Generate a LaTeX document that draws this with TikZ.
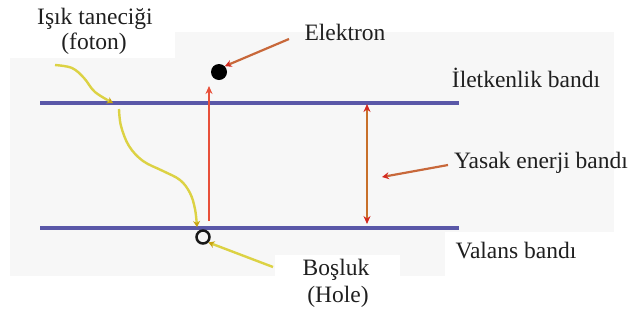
\documentclass[tikz,border=0pt]{standalone}
\usepackage{fontspec}
\setmainfont{Liberation Serif}
\usetikzlibrary{arrows.meta}
\definecolor{bandblue}{HTML}{5A58A8}
\definecolor{arrred}{HTML}{E8503A}
\definecolor{arrbrown}{HTML}{C8683A}
\definecolor{gapor}{HTML}{C8702A}
\definecolor{tipred}{HTML}{D42A20}
\definecolor{phyellow}{HTML}{DCD244}
\definecolor{tipyellow}{HTML}{C8A410}
\definecolor{bggray}{HTML}{F7F7F7}
\tikzset{
  band/.style={draw=bandblue, line width=3.6pt},
  lbl/.style={font=\fontsize{23.5}{27}\selectfont, text=black!88, inner sep=0pt},
  pointer/.style={draw=arrbrown, line width=2.2pt, -{Stealth[length=7pt,width=7pt,fill=tipred,color=tipred]}},
  photon/.style={draw=phyellow, line width=2.4pt},
  yarrow/.style={-{Stealth[length=6pt,width=7pt,fill=tipyellow,color=tipyellow]}}
}
\begin{document}
\begin{tikzpicture}[x=1pt,y=-1pt]
\useasboundingbox (0,0) rectangle (636,325);
% background panel
\fill[bggray] (10,32) rectangle (614,276);
\fill[white] (10,32) rectangle (175,58);
\fill[white] (445,232) rectangle (614,276);
\fill[white] (275,255) rectangle (400,276);
% bands
\coordinate (cl) at (40,103); \coordinate (cr) at (459,103);
\coordinate (vl) at (40,228); \coordinate (vr) at (459,228);
\draw[band] (cl) -- (cr);
\draw[band] (vl) -- (vr);
% electron and hole
\node[circle, fill=black, minimum size=16pt, inner sep=0pt] (el) at (219,72) {};
\node[circle, draw=black!90, line width=2.5pt, minimum size=13pt, inner sep=0pt] (hole) at (203,237) {};
% excitation arrow
\coordinate (exs) at (209,221); \coordinate (exe) at (209,86);
\draw[draw=arrred, line width=2.2pt, -{Stealth[length=8pt,width=7pt]}] (exs) -- (exe);
% gap double arrow
\coordinate (gt) at (367,104); \coordinate (gb) at (367,224);
\draw[draw=gapor, line width=2.4pt, {Stealth[length=8pt,width=7pt,fill=tipred,color=tipred]}-{Stealth[length=8pt,width=7pt,fill=tipred,color=tipred]}] (gt) -- (gb);
% labels
\node[lbl] (isik) at (95,19) {Işık taneciği};
\node[lbl] (foton) at (94,44) {(foton)};
\node[lbl] (elek) at (345,32) {Elektron};
\node[lbl] (ilet) at (526,78) {İletkenlik bandı};
\node[lbl] (yasak) at (541,163) {Yasak enerji bandı};
\node[lbl] (valans) at (516,251) {Valans bandı};
\node[lbl] (bosluk) at (336,270) {Boşluk};
\node[lbl] (holel) at (338,297) {(Hole)};
% pointers
\coordinate (pe) at (289,39);
\draw[pointer] (pe) -- (el.north east);
\coordinate (py) at (448,165);
\coordinate (pyt) at (382,177);
\draw[pointer] (py) -- (pyt);
% photon
\draw[photon, yarrow] plot[smooth, tension=0.6] coordinates {(55,65) (72,68) (84,78) (95,92) (113,103)};
\draw[photon, yarrow] plot[smooth, tension=0.6] coordinates {(119,109) (121,126) (129,146) (143,161) (163,171) (180,180) (190,193) (195,209) (197,227)};
% hole pointer
\coordinate (ph) at (273,267);
\draw[photon, yarrow] (ph) -- (hole.south east);
\end{tikzpicture}
\end{document}
